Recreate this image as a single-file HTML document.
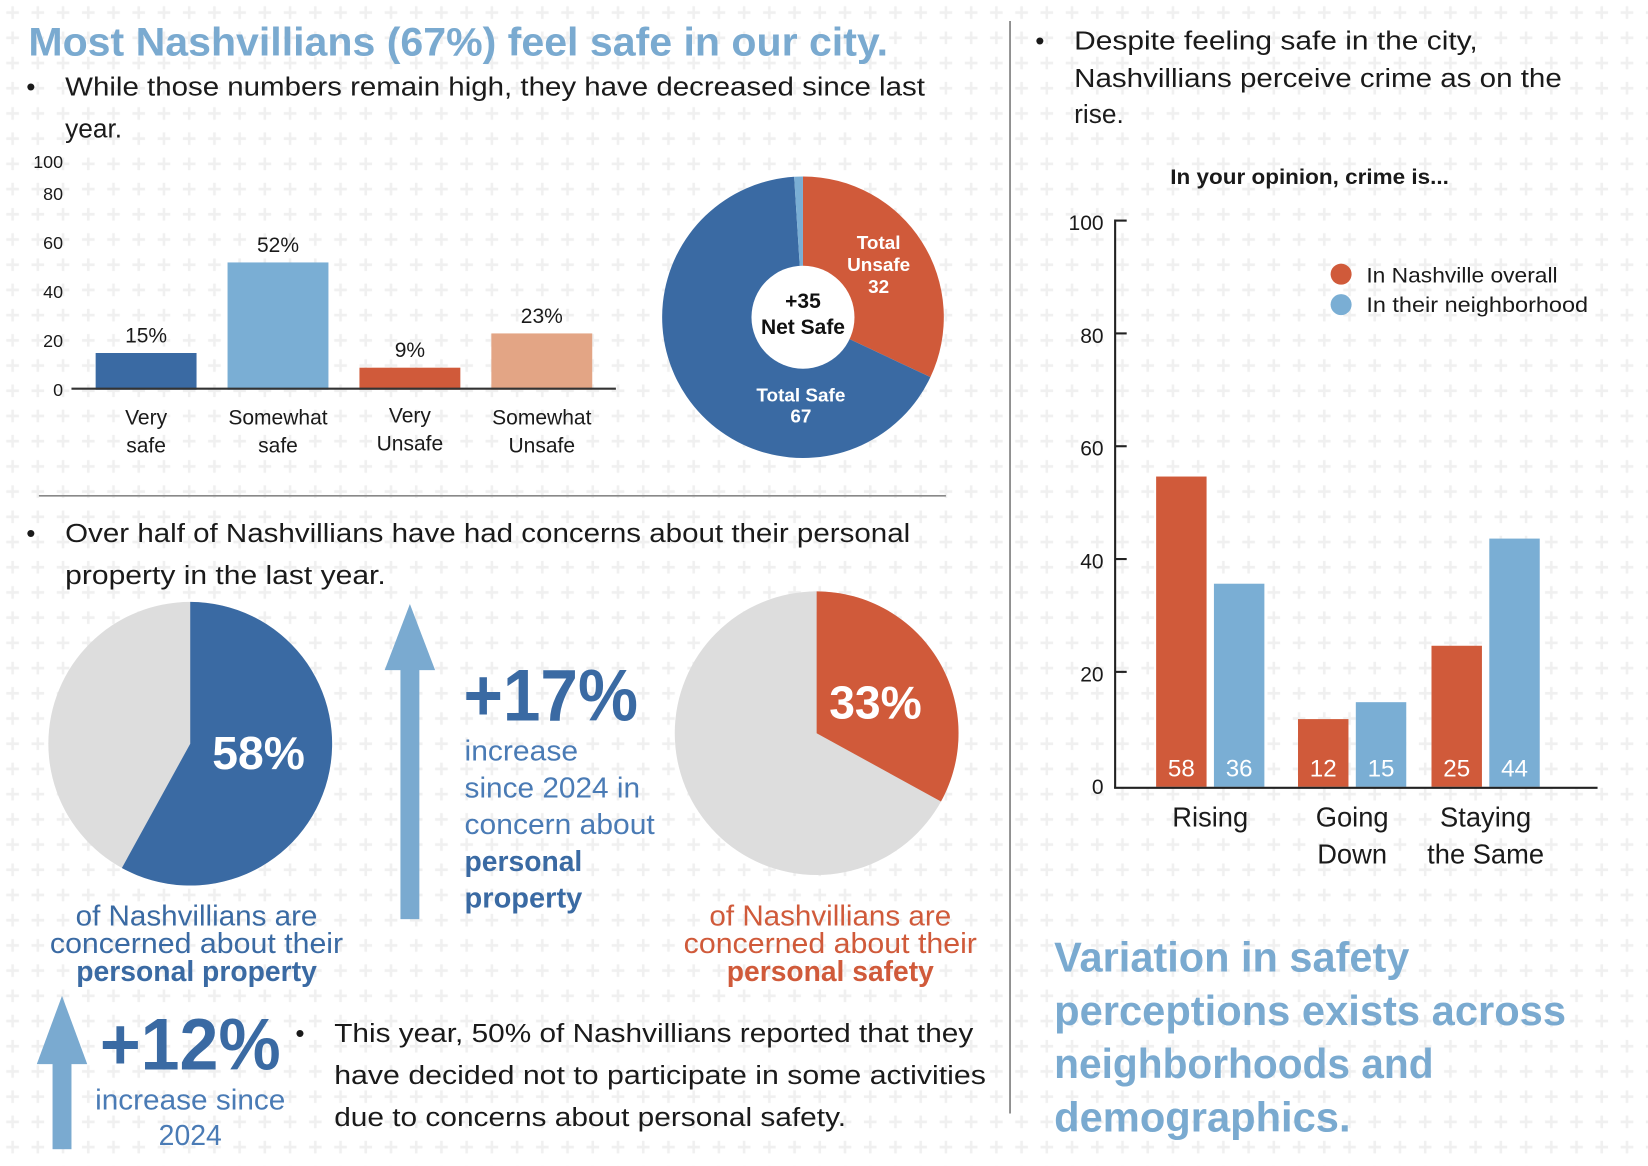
<!DOCTYPE html>
<html><head><meta charset="utf-8"><style>
html,body{margin:0;padding:0;background:#fff;width:1648px;height:1166px;overflow:hidden}
svg{display:block}
text{font-family:"Liberation Sans",sans-serif}
.body{font-size:25px;fill:#1a1a1a}
.blue{fill:#3a6aa3}
.lb{fill:#7aaad0}
.red{fill:#d05a3a}
</style></head><body>
<svg id="s" width="1648" height="1166" viewBox="0 0 1568 1110" preserveAspectRatio="none" xmlns="http://www.w3.org/2000/svg">
<defs>
<pattern id="plus" width="24" height="24" patternUnits="userSpaceOnUse">
<path d="M12 6v12M6 12h12" stroke="#f0f0f0" stroke-width="2.5"/>
</pattern>
</defs>
<rect width="1568" height="1110" fill="#fff"/>
<rect width="1568" height="1110" fill="url(#plus)"/>

<text x="27" y="53" font-size="38" font-weight="bold" class="lb" textLength="818" lengthAdjust="spacingAndGlyphs">Most Nashvillians (67%) feel safe in our city.</text>
<text x="25" y="91" class="body">•</text>
<text x="62" y="91" class="body" textLength="818" lengthAdjust="spacingAndGlyphs">While those numbers remain high, they have decreased since last</text>
<text x="62" y="131" class="body">year.</text>

<g id="bar1"></g>
<g id="donut"></g>

<line x1="37" y1="472" x2="900" y2="472" stroke="#888" stroke-width="1.5"/>
<text x="25" y="516" class="body">•</text>
<text x="62" y="516" class="body" textLength="804" lengthAdjust="spacingAndGlyphs">Over half of Nashvillians have had concerns about their personal</text>
<text x="62" y="556" class="body" textLength="305" lengthAdjust="spacingAndGlyphs">property in the last year.</text>

<g id="pies"></g>

<g font-size="27" text-anchor="middle">
<text x="187" y="881" class="blue" textLength="230" lengthAdjust="spacingAndGlyphs">of Nashvillians are</text>
<text x="187" y="907" class="blue" textLength="279" lengthAdjust="spacingAndGlyphs">concerned about their</text>
<text x="187" y="934" class="blue" font-weight="bold" textLength="229" lengthAdjust="spacingAndGlyphs">personal property</text>
</g>
<g font-size="27" text-anchor="middle">
<text x="790" y="881" class="red" textLength="230" lengthAdjust="spacingAndGlyphs">of Nashvillians are</text>
<text x="790" y="907" class="red" textLength="279" lengthAdjust="spacingAndGlyphs">concerned about their</text>
<text x="790" y="934" class="red" font-weight="bold" textLength="197" lengthAdjust="spacingAndGlyphs">personal safety</text>
</g>

<g>
<rect x="381" y="635" width="18" height="240" fill="#7aaad0"/>
<polygon points="390,575 366,638 414,638" fill="#7aaad0"/>
</g>
<text x="441" y="686" font-size="70" font-weight="bold" class="blue" textLength="166" lengthAdjust="spacingAndGlyphs">+17%</text>
<g font-size="27">
<text x="442" y="724" fill="#4a7bb5" textLength="108" lengthAdjust="spacingAndGlyphs">increase</text>
<text x="442" y="759" fill="#4a7bb5" textLength="167" lengthAdjust="spacingAndGlyphs">since 2024 in</text>
<text x="442" y="794" fill="#4a7bb5" textLength="181" lengthAdjust="spacingAndGlyphs">concern about</text>
<text x="442" y="829" fill="#3a6aa3" font-weight="bold" textLength="112" lengthAdjust="spacingAndGlyphs">personal</text>
<text x="442" y="864" fill="#3a6aa3" font-weight="bold" textLength="112" lengthAdjust="spacingAndGlyphs">property</text>
</g>

<g>
<rect x="50" y="1010" width="18" height="84" fill="#7aaad0"/>
<polygon points="59,948 35,1013 83,1013" fill="#7aaad0"/>
</g>
<text x="95" y="1018" font-size="70" font-weight="bold" class="blue" textLength="172" lengthAdjust="spacingAndGlyphs">+12%</text>
<text x="181" y="1056" font-size="27" text-anchor="middle" fill="#4a7bb5" textLength="181" lengthAdjust="spacingAndGlyphs">increase since</text>
<text x="181" y="1090" font-size="27" text-anchor="middle" fill="#4a7bb5">2024</text>

<text x="281" y="992" class="body">•</text>
<g class="body">
<text x="318" y="992" textLength="608" lengthAdjust="spacingAndGlyphs">This year, 50% of Nashvillians reported that they</text>
<text x="318" y="1032" textLength="620" lengthAdjust="spacingAndGlyphs">have decided not to participate in some activities</text>
<text x="318" y="1072" textLength="487" lengthAdjust="spacingAndGlyphs">due to concerns about personal safety.</text>
</g>

<line x1="961" y1="20" x2="961" y2="1060" stroke="#777" stroke-width="1.5"/>
<text x="985" y="47" class="body">•</text>
<g class="body">
<text x="1022" y="47" textLength="384" lengthAdjust="spacingAndGlyphs">Despite feeling safe in the city,</text>
<text x="1022" y="83" textLength="464" lengthAdjust="spacingAndGlyphs">Nashvillians perceive crime as on the</text>
<text x="1022" y="117">rise.</text>
</g>
<text x="1246" y="175" font-size="20" font-weight="bold" text-anchor="middle" fill="#1a1a1a" textLength="265" lengthAdjust="spacingAndGlyphs">In your opinion, crime is...</text>
<g id="bar2"></g>
<g>
<circle cx="1276" cy="261" r="10" fill="#d05a3a"/>
<text x="1300" y="269" font-size="20" fill="#1a1a1a" textLength="182" lengthAdjust="spacingAndGlyphs">In Nashville overall</text>
<circle cx="1276" cy="290" r="10" fill="#7aaed4"/>
<text x="1300" y="297" font-size="20" fill="#1a1a1a" textLength="211" lengthAdjust="spacingAndGlyphs">In their neighborhood</text>
</g>

<g font-size="40" font-weight="bold" class="lb">
<text x="1003" y="925" class="lb" textLength="338" lengthAdjust="spacingAndGlyphs">Variation in safety</text>
<text x="1003" y="976" class="lb" textLength="487" lengthAdjust="spacingAndGlyphs">perceptions exists across</text>
<text x="1003" y="1026" class="lb" textLength="361" lengthAdjust="spacingAndGlyphs">neighborhoods and</text>
<text x="1003" y="1077" class="lb" textLength="282" lengthAdjust="spacingAndGlyphs">demographics.</text>
</g>
</svg>
<script>
// ---- Chart 1: feeling safe ----
const safeCats = [["Very","safe"],["Somewhat","safe"],["Very","Unsafe"],["Somewhat","Unsafe"]];
const safeValues = [15, 52, 9, 23];
const safeLabels = ["15%","52%","9%","23%"];
const safeTicks = [0, 20, 40, 60, 80, 100];
// ---- Donut ----
const donutValues = [32, 67, 1];
// ---- Pies ----
const propertyPct = [58];
const safetyPct = [33];
// ---- Chart 2: crime ----
const crimeCats = [["Rising"],["Going","Down"],["Staying","the Same"]];
const nashvilleValues = [55, 12, 25];
const neighborhoodValues = [36, 15, 44];
const nashvilleLabels = ["58","12","25"];
const neighborhoodLabels = ["36","15","44"];
const crimeTicks = [0, 20, 40, 60, 80, 100];

const NS = "http://www.w3.org/2000/svg";
function mk(tag, attrs, parent, txt){
  const e = document.createElementNS(NS, tag);
  for (const k in attrs) e.setAttribute(k, attrs[k]);
  if (txt !== undefined) e.textContent = txt;
  parent.appendChild(e);
  return e;
}
function arcPath(cx, cy, r, ri, a0, a1){
  const p = (a, rr) => [cx + rr*Math.sin(a), cy - rr*Math.cos(a)];
  const large = (a1 - a0) > Math.PI ? 1 : 0;
  const [x0,y0] = p(a0,r), [x1,y1] = p(a1,r);
  if (ri <= 0) return `M${cx},${cy}L${x0},${y0}A${r},${r} 0 ${large} 1 ${x1},${y1}Z`;
  const [x2,y2] = p(a1,ri), [x3,y3] = p(a0,ri);
  return `M${x0},${y0}A${r},${r} 0 ${large} 1 ${x1},${y1}L${x2},${y2}A${ri},${ri} 0 ${large} 0 ${x3},${y3}Z`;
}

// Chart 1
(function(){
  const g = document.getElementById('bar1');
  const y0 = 371, pxPer = 2.33;
  const y = v => y0 - v*pxPer;
  const x = i => 91 + i*125.5;
  const bw = 96;
  const cols = ["#3a6aa3","#7aaed4","#d05a3a","#e3a585"];
  safeTicks.forEach(t => {
    const ty = t === 100 ? 160 : y(t)+6;
    const el = mk('text', {x: 60, y: ty, 'font-size': 17, 'text-anchor':'end', fill:'#1a1a1a'}, g, String(t));
    
    
  });
  safeValues.forEach((v,i) => {
    const r = mk('rect', {x: x(i), y: y(v), width: bw, height: v*pxPer, fill: cols[i]}, g);
    
    
    const l = mk('text', {x: x(i)+bw/2, y: y(v)-10, 'font-size': 20, 'text-anchor':'middle', fill:'#1a1a1a'}, g, safeLabels[i]);
    
    
    safeCats[i].forEach((c,j) => {
      const t = mk('text', {x: x(i)+bw/2, y: 404 + j*27 - (i===2?2:0), 'font-size': 20, 'text-anchor':'middle', fill:'#1a1a1a'}, g, c);
      
      
    });
  });
  const ax = mk('line', {x1: 68, y1: y0-1, x2: 586, y2: y0-1, stroke:'#333', 'stroke-width': 2}, g);
  
  
})();

// Donut
(function(){
  const g = document.getElementById('donut');
  const cx = 764, cy = 302, r = 134, ri = 0;
  const cols = ["#d05a3a","#3a6aa3","#7aaed4"];
  const total = donutValues.reduce((a,b)=>a+b,0);
  let a = 0;
  donutValues.forEach((v,i) => {
    const a1 = a + v/total*2*Math.PI;
    const p = mk('path', {d: arcPath(cx,cy,r,ri,a,a1), fill: cols[i]}, g);
    
    
    a = a1;
  });
  const c = mk('circle', {cx, cy, r: 49, fill:'#fff'}, g);
  
  
  const lbl = [[836,237,"Total"],[836,258,"Unsafe"],[836,279,String(donutValues[0])],[762,382,"Total Safe"],[762,402,String(donutValues[1])]];
  lbl.forEach(([x,y,t]) => {
    const e = mk('text', {x, y, 'font-size': 18, 'font-weight':'bold', 'text-anchor':'middle', fill:'#fff'}, g, t);
    
    
  });
  const n1 = mk('text', {x: cx, y: 293, 'font-size': 20, 'font-weight':'bold','text-anchor':'middle', fill:'#111'}, g, "+" + (donutValues[1]-donutValues[0]));
  
  
  const n2 = mk('text', {x: cx, y: 318, 'font-size': 20, 'font-weight':'bold','text-anchor':'middle', fill:'#111'}, g, "Net Safe");
  
  
})();

// Pies
(function(){
  const g = document.getElementById('pies');
  function pie(cx, cy, r, pct, col, lx, ly, name){
    const bg = mk('circle', {cx, cy, r, fill:'#dddddd'}, g);
    
    
    const s = mk('path', {d: arcPath(cx,cy,r,0,0,pct/100*2*Math.PI), fill: col}, g);
    
    
    const t = mk('text', {x: lx, y: ly, 'font-size': 44, 'font-weight':'bold', 'text-anchor':'middle', fill:'#fff'}, g, pct + "%");
    
    
  }
  pie(181, 708, 135, propertyPct[0], "#3a6aa3", 246, 732, "property");
  pie(777, 698, 135, safetyPct[0], "#d05a3a", 833, 684, "safety");
})();

// Chart 2
(function(){
  const g = document.getElementById('bar2');
  const y0 = 749, pxPer = 5.37;
  const y = v => y0 - v*pxPer;
  const gx = [1100, 1235, 1362];
  const bw = 48, gap = 7;
  crimeTicks.forEach(t => {
    const l = mk('text', {x: 1050, y: y(t)+7, 'font-size': 20, 'text-anchor':'end', fill:'#1a1a1a'}, g, String(t));
    
    
    if (t > 0) {
      const tk = mk('line', {x1: 1061, y1: y(t)-2, x2: 1072, y2: y(t)-2, stroke:'#222', 'stroke-width': 2}, g);
      
      
    }
  });
  crimeCats.forEach((cat,i) => {
    const x1 = gx[i], x2 = gx[i] + bw + gap;
    const b1 = mk('rect', {x: x1, y: y(nashvilleValues[i]), width: bw, height: nashvilleValues[i]*pxPer, fill:'#d05a3a'}, g);
    
    
    const b2 = mk('rect', {x: x2, y: y(neighborhoodValues[i]), width: bw, height: neighborhoodValues[i]*pxPer, fill:'#7aaed4'}, g);
    
    
    const l1 = mk('text', {x: x1+bw/2, y: 739, 'font-size': 23, 'text-anchor':'middle', fill:'#fff'}, g, nashvilleLabels[i]);
    
    
    const l2 = mk('text', {x: x2+bw/2, y: 739, 'font-size': 23, 'text-anchor':'middle', fill:'#fff'}, g, neighborhoodLabels[i]);
    
    
    cat.forEach((c,j) => {
      const t = mk('text', {x: x1 + bw + gap/2, y: 787 + j*35, 'font-size': 26, 'text-anchor':'middle', fill:'#1a1a1a'}, g, c);
      
      
    });
  });
  const ya = mk('line', {x1: 1061, y1: 209, x2: 1061, y2: 750, stroke:'#222', 'stroke-width': 2}, g);
  
  
  const xa = mk('line', {x1: 1060, y1: 750, x2: 1520, y2: 750, stroke:'#222', 'stroke-width': 2}, g);
  
  
})();
</script>
</body></html>
